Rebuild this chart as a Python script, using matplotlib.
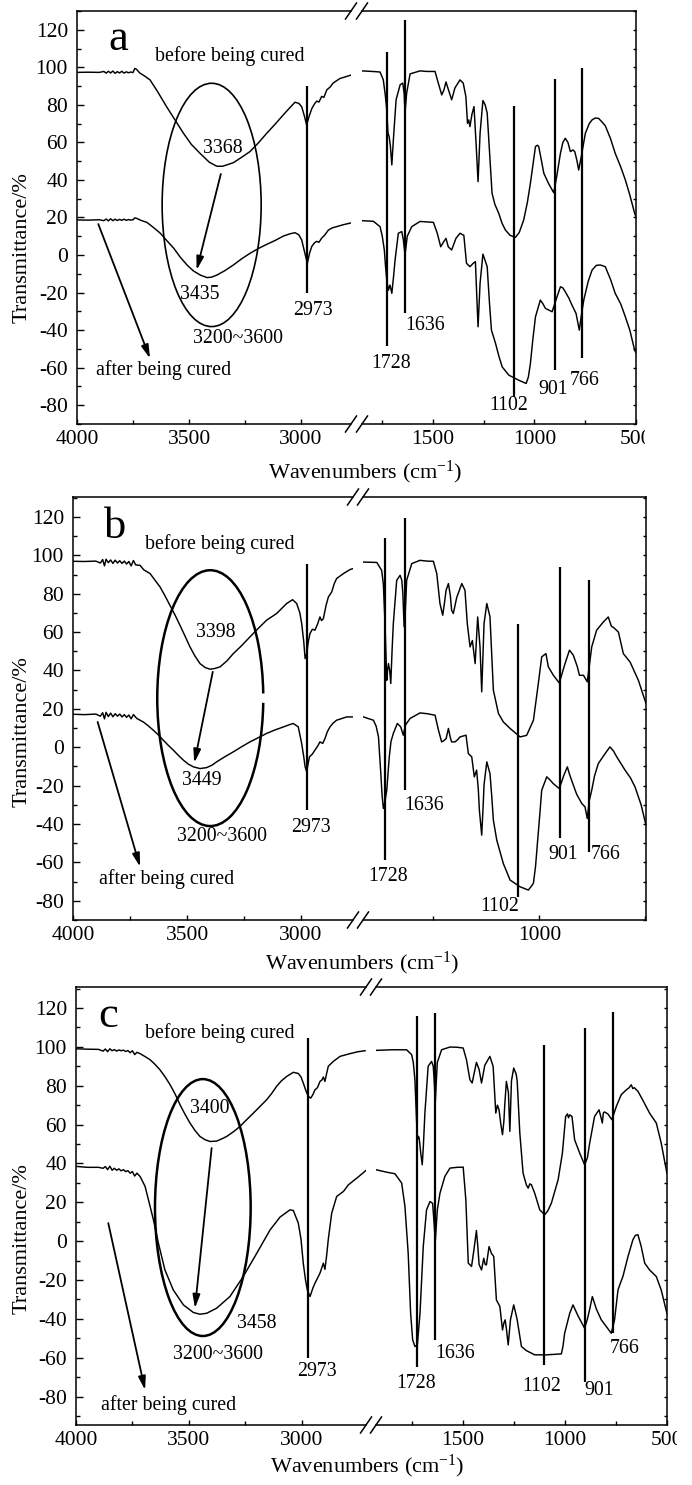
import matplotlib
matplotlib.use("Agg")
import matplotlib.pyplot as plt
from matplotlib.patches import Ellipse, Arc
from matplotlib.lines import Line2D
from matplotlib.ticker import FixedLocator, MultipleLocator
from matplotlib.transforms import Bbox

plt.rcParams["font.family"] = ["Liberation Serif", "DejaVu Serif"]
plt.rcParams["mathtext.fontset"] = "custom"
plt.rcParams["mathtext.rm"] = "Liberation Serif"
plt.rcParams["mathtext.it"] = "Liberation Serif:italic"
plt.rcParams["axes.unicode_minus"] = False

# ---------------------------------------------------------------------------
# FTIR spectra (wavenumber cm-1, transmittance %), split at the axis break:
# *_HI  = 4000 .. ~2750 cm-1 region, *_LO = ~1900 .. 500 cm-1 region
# ---------------------------------------------------------------------------
A_BEFORE_HI = [(4000, 97.3), (3950, 97.4), (3900, 97.3), (3880, 97.8), (3870, 96.9), (3860, 97.9),
               (3850, 97.0), (3840, 98.0), (3830, 96.8), (3820, 97.7), (3810, 97.0), (3800, 97.9),
               (3790, 96.9), (3780, 97.6), (3770, 97.1), (3760, 97.5), (3750, 97.2), (3742, 99.4),
               (3735, 99.0), (3720, 97.0), (3700, 95.5), (3674, 93.3), (3640, 87.0), (3600, 79.0),
               (3560, 71.5), (3525, 64.9), (3490, 59.0), (3451, 54.2), (3410, 49.5), (3376, 47.3),
               (3350, 47.3), (3302, 49.2), (3260, 52.5), (3228, 55.1), (3190, 59.8), (3153, 64.9),
               (3115, 69.8), (3079, 74.7), (3050, 78.5), (3027, 81.4), (3010, 80.8), (2997, 79.0),
               (2985, 74.0), (2975, 69.3), (2965, 73.5), (2952, 78.0), (2940, 80.5), (2930, 82.0),
               (2920, 81.5), (2908, 84.5), (2898, 84.0), (2885, 88.0), (2870, 89.5), (2857, 91.6),
               (2827, 94.0), (2800, 95.0), (2774, 96.0)]
A_BEFORE_LO = [(1851, 98.1), (1800, 97.8), (1761, 97.5), (1745, 93.3), (1735, 85.0), (1728, 77.3),
               (1722, 65.0), (1716, 63.0), (1710, 58.0), (1703, 48.0), (1695, 62.0), (1682, 82.7),
               (1662, 90.7), (1649, 91.6), (1642, 86.0), (1638, 75.6), (1630, 86.2), (1613, 96.5),
               (1564, 98.1), (1530, 97.8), (1490, 97.8), (1474, 91.6), (1457, 85.3), (1446, 88.0),
               (1436, 92.2), (1425, 88.4), (1408, 82.7), (1392, 89.0), (1367, 93.3), (1351, 91.6),
               (1338, 84.4), (1330, 70.2), (1324, 72.0), (1318, 68.4), (1308, 75.0), (1298, 79.1),
               (1288, 60.0), (1278, 39.1), (1268, 65.0), (1254, 82.3), (1243, 80.0), (1233, 75.6),
               (1217, 47.1), (1209, 32.9), (1195, 27.0), (1176, 22.2), (1160, 17.0), (1143, 13.3),
               (1120, 10.5), (1094, 9.4), (1075, 12.0), (1053, 18.7), (1035, 28.0), (1020, 38.2),
               (1005, 50.0), (995, 57.8), (985, 58.5), (979, 57.8), (965, 50.0), (954, 43.6),
               (930, 38.0), (905, 33.2), (890, 42.0), (872, 54.2), (860, 60.0), (848, 62.2),
               (835, 60.0), (823, 55.1), (810, 56.0), (801, 55.0), (790, 50.0), (782, 45.3),
               (770, 52.0), (749, 64.9), (730, 70.0), (716, 72.0), (700, 73.0), (684, 72.8),
               (668, 71.0), (651, 68.9), (625, 62.0), (602, 54.2), (575, 47.0), (552, 40.0),
               (530, 32.0), (506, 22.2), (500, 20.5)]
A_AFTER_HI = [(4000, 18.7), (3950, 18.6), (3900, 18.8), (3880, 18.3), (3870, 19.2), (3860, 18.2),
              (3850, 19.3), (3840, 18.3), (3830, 19.1), (3820, 18.4), (3810, 19.0), (3800, 18.5),
              (3790, 19.1), (3780, 18.5), (3770, 18.9), (3760, 18.6), (3750, 18.8), (3742, 19.8),
              (3735, 19.6), (3715, 18.5), (3688, 17.4), (3660, 14.8), (3628, 11.6), (3600, 7.8),
              (3568, 3.6), (3540, -1.0), (3509, -5.3), (3480, -8.5), (3449, -10.7), (3420, -12.0),
              (3400, -11.8), (3376, -10.7), (3340, -8.3), (3302, -5.3), (3265, -2.0), (3228, 0.9),
              (3190, 3.5), (3153, 5.7), (3115, 7.8), (3079, 10.1), (3050, 11.3), (3027, 11.9),
              (3010, 10.8), (2997, 8.0), (2985, 2.0), (2972, -4.4), (2962, 1.0), (2952, 4.6),
              (2940, 6.5), (2930, 7.3), (2920, 6.8), (2908, 9.0), (2895, 10.5), (2878, 13.3),
              (2860, 14.5), (2842, 15.1), (2810, 16.2), (2774, 17.2)]
A_AFTER_LO = [(1851, 18.3), (1794, 18.0), (1761, 15.1), (1750, 10.0), (1740, 2.7), (1734, -6.0),
              (1728, -13.3), (1720, -18.7), (1712, -16.0), (1703, -20.4), (1695, -12.0), (1687, -2.7),
              (1671, 11.6), (1654, 12.5), (1646, 8.0), (1638, 0.0), (1627, 10.0), (1605, 15.1),
              (1564, 17.9), (1498, 17.4), (1479, 11.6), (1462, 4.4), (1448, 7.0), (1436, 8.9),
              (1425, 4.4), (1408, 2.7), (1387, 8.9), (1367, 11.6), (1348, 10.5), (1335, -4.4),
              (1318, -6.2), (1302, -4.4), (1291, -3.5), (1285, -20.0), (1278, -38.2), (1268, -15.0),
              (1254, 0.5), (1233, -6.2), (1222, -25.0), (1212, -40.0), (1192, -47.0), (1175, -54.0),
              (1159, -59.6), (1126, -64.0), (1077, -66.7), (1041, -68.4), (1030, -65.0), (1020, -57.8),
              (1008, -45.0), (995, -32.9), (971, -24.0), (958, -26.0), (946, -28.4), (913, -30.2),
              (897, -24.9), (872, -16.9), (860, -17.5), (848, -19.6), (830, -23.0), (815, -26.7),
              (795, -31.1), (779, -40.0), (770, -33.0), (757, -24.0), (735, -14.0), (716, -8.0),
              (695, -5.5), (675, -5.3), (651, -6.2), (625, -13.0), (602, -20.4), (575, -26.0),
              (552, -32.9), (530, -40.0), (506, -50.7), (500, -52.0)]

B_BEFORE_HI = [(4000, 96.9), (3950, 96.8), (3900, 97.0), (3880, 96.0), (3870, 97.8), (3862, 94.5),
               (3855, 98.0), (3845, 96.2), (3835, 97.6), (3825, 95.8), (3815, 97.5), (3805, 96.0),
               (3795, 97.2), (3785, 95.8), (3775, 97.0), (3765, 95.5), (3755, 96.8), (3745, 94.5),
               (3735, 97.3), (3725, 95.0), (3706, 94.8), (3690, 92.5), (3662, 90.5), (3640, 87.0),
               (3618, 83.5), (3597, 79.0), (3575, 74.0), (3553, 69.0), (3531, 63.6), (3509, 58.0),
               (3487, 52.3), (3465, 47.5), (3443, 43.6), (3420, 41.5), (3399, 40.7), (3380, 41.0),
               (3355, 41.9), (3325, 45.0), (3297, 48.8), (3260, 53.0), (3224, 57.5), (3187, 62.0),
               (3151, 66.2), (3107, 69.7), (3063, 74.9), (3037, 76.9), (3019, 74.9), (3005, 70.0),
               (2997, 64.4), (2988, 55.0), (2982, 46.2), (2975, 48.8), (2968, 55.0), (2961, 59.2),
               (2950, 61.5), (2939, 61.0), (2928, 64.0), (2917, 67.9), (2910, 66.0), (2902, 67.0),
               (2890, 74.0), (2880, 78.3), (2865, 81.0), (2855, 85.0), (2844, 87.9), (2814, 90.5),
               (2785, 92.6), (2772, 93.1)]
B_BEFORE_LO = [(1830, 96.5), (1767, 96.3), (1744, 92.2), (1736, 85.0), (1728, 64.4), (1722, 42.0),
               (1720, 34.9), (1716, 40.0), (1712, 43.6), (1706, 40.0), (1701, 33.2), (1695, 50.0),
               (1689, 64.4), (1673, 87.0), (1657, 89.6), (1649, 87.0), (1644, 80.0), (1638, 62.7),
               (1632, 72.0), (1626, 87.0), (1602, 95.7), (1563, 97.4), (1530, 97.0), (1500, 96.9),
               (1484, 90.5), (1469, 74.9), (1456, 68.8), (1448, 75.0), (1440, 81.8), (1429, 85.3),
               (1420, 79.0), (1414, 71.4), (1406, 69.7), (1390, 78.0), (1366, 85.3), (1351, 81.8),
               (1340, 64.4), (1327, 52.3), (1316, 55.6), (1303, 43.6), (1291, 67.9), (1280, 52.3),
               (1272, 28.9), (1261, 64.4), (1248, 74.9), (1233, 68.0), (1217, 29.7), (1193, 17.6),
               (1170, 13.2), (1138, 9.8), (1091, 5.4), (1060, 6.2), (1028, 14.1), (1005, 33.2),
               (989, 47.1), (969, 48.8), (958, 42.0), (934, 37.5), (906, 33.5), (879, 43.6),
               (858, 50.6), (840, 48.0), (821, 42.0), (811, 37.5), (792, 37.5), (774, 34.1),
               (753, 52.3), (730, 61.0), (698, 65.3), (675, 67.9), (660, 63.0), (651, 62.5),
               (627, 60.0), (604, 48.8), (572, 44.4), (533, 34.9), (497, 22.8)]
B_AFTER_HI = [(4000, 17.2), (3950, 17.0), (3900, 17.3), (3880, 16.2), (3870, 18.0), (3862, 14.8),
              (3855, 18.2), (3845, 16.0), (3835, 17.8), (3825, 15.9), (3815, 17.5), (3805, 16.2),
              (3795, 17.3), (3785, 15.8), (3775, 17.0), (3765, 15.6), (3755, 16.8), (3745, 14.8),
              (3735, 17.0), (3720, 15.0), (3692, 13.2), (3670, 11.2), (3648, 8.9), (3626, 6.5),
              (3604, 3.7), (3582, 1.0), (3560, -1.5), (3538, -4.2), (3516, -6.7), (3494, -8.8),
              (3472, -10.2), (3443, -11.1), (3414, -10.6), (3390, -9.3), (3370, -7.6), (3335, -5.0),
              (3297, -2.4), (3260, 0.3), (3224, 2.8), (3187, 5.0), (3151, 7.2), (3115, 9.0),
              (3077, 10.6), (3050, 11.8), (3034, 12.4), (3012, 10.6), (2997, 1.9), (2988, -5.0),
              (2982, -10.2), (2975, -12.8), (2968, -8.0), (2963, -5.0), (2950, -3.5), (2939, -1.5),
              (2925, 1.0), (2917, 2.8), (2905, 2.0), (2895, 4.5), (2885, 8.0), (2873, 10.6),
              (2860, 12.5), (2844, 14.1), (2800, 15.8), (2772, 15.8)]
B_AFTER_LO = [(1830, 15.8), (1783, 14.1), (1770, 11.0), (1759, 5.4), (1748, -13.7), (1742, -25.0),
              (1736, -31.9), (1728, -28.0), (1720, -22.4), (1708, -5.0), (1700, 3.0), (1689, 7.2),
              (1670, 12.4), (1654, 10.6), (1642, 6.3), (1632, 11.5), (1610, 15.0), (1563, 17.9),
              (1530, 17.5), (1492, 16.7), (1476, 8.9), (1461, 2.8), (1450, 3.5), (1440, 4.5),
              (1429, 9.8), (1420, 5.0), (1414, 2.8), (1398, 2.8), (1385, 4.0), (1374, 5.4),
              (1346, 6.3), (1335, -3.3), (1319, -5.0), (1307, -15.4), (1296, -11.9), (1288, -22.0),
              (1283, -32.8), (1272, -45.8), (1265, -30.0), (1261, -19.5), (1248, -7.6), (1233, -13.7),
              (1225, -25.0), (1217, -38.0), (1201, -48.4), (1170, -60.6), (1138, -69.2), (1091, -72.7),
              (1052, -74.4), (1035, -72.0), (1028, -70.8), (1018, -62.0), (1008, -48.4), (998, -35.0),
              (989, -22.4), (965, -15.4), (950, -17.0), (934, -19.0), (906, -21.5), (884, -14.5),
              (868, -10.2), (858, -14.0), (847, -17.5), (824, -24.5), (800, -29.3), (785, -31.0),
              (774, -37.1), (765, -28.0), (753, -22.4), (740, -15.0), (722, -8.5), (690, -3.3),
              (667, 0.2), (650, -2.0), (635, -5.0), (615, -8.5), (596, -11.9), (570, -16.0),
              (549, -20.6), (520, -30.0), (497, -40.6)]

C_BEFORE_HI = [(4000, 99.0), (3950, 98.8), (3900, 98.7), (3880, 97.8), (3870, 98.9), (3860, 97.5),
               (3850, 99.0), (3840, 98.0), (3830, 98.6), (3820, 97.8), (3810, 98.4), (3800, 98.0),
               (3790, 98.3), (3780, 97.6), (3770, 98.1), (3760, 97.0), (3750, 98.0), (3740, 96.0),
               (3730, 97.2), (3716, 96.5), (3694, 95.0), (3672, 93.4), (3650, 91.0), (3628, 88.2),
               (3605, 84.5), (3583, 80.5), (3560, 75.5), (3539, 70.2), (3517, 65.3), (3495, 60.8),
               (3473, 57.0), (3451, 53.9), (3428, 52.2), (3406, 51.3), (3377, 51.5), (3355, 52.6),
               (3332, 53.9), (3300, 56.5), (3273, 59.1), (3244, 62.5), (3214, 65.9), (3185, 69.3),
               (3155, 72.8), (3133, 76.0), (3111, 79.7), (3090, 82.5), (3066, 84.8), (3037, 86.9),
               (3015, 86.3), (3003, 84.5), (2993, 81.4), (2980, 77.0), (2970, 74.5), (2960, 73.6),
               (2950, 75.5), (2941, 77.9), (2930, 79.0), (2919, 82.2), (2910, 83.0), (2904, 84.5),
               (2897, 82.2), (2890, 86.0), (2882, 90.0), (2860, 92.5), (2830, 95.1), (2786, 96.5),
               (2750, 97.5), (2719, 98.0)]
C_BEFORE_LO = [(1925, 98.2), (1850, 98.5), (1778, 98.5), (1753, 96.0), (1745, 92.0), (1737, 83.1),
               (1730, 65.0), (1725, 52.2), (1720, 54.0), (1716, 53.0), (1708, 45.0), (1701, 39.3),
               (1695, 50.0), (1688, 65.9), (1672, 90.0), (1655, 92.5), (1647, 90.0), (1642, 82.0),
               (1637, 71.1), (1632, 82.0), (1627, 92.0), (1606, 98.5), (1565, 99.9), (1530, 99.8),
               (1500, 99.4), (1484, 93.4), (1467, 83.1), (1456, 81.4), (1445, 87.0), (1435, 92.0),
               (1422, 88.4), (1410, 81.4), (1394, 90.5), (1369, 95.1), (1353, 90.0), (1340, 65.9),
               (1332, 70.0), (1324, 67.6), (1315, 60.0), (1307, 54.8), (1300, 62.0), (1296, 70.0),
               (1288, 82.2), (1278, 76.5), (1271, 56.5), (1263, 82.5), (1252, 89.1), (1240, 86.0),
               (1235, 82.5), (1222, 55.6), (1206, 35.0), (1190, 29.0), (1181, 27.3), (1173, 29.5),
               (1165, 29.0), (1149, 24.7), (1124, 16.1), (1100, 13.6), (1085, 15.5), (1067, 19.6),
               (1034, 31.6), (1013, 45.3), (997, 64.2), (988, 65.5), (983, 63.5), (977, 65.0),
               (966, 64.2), (953, 52.2), (928, 45.3), (904, 39.3), (890, 43.0), (879, 50.5),
               (855, 64.2), (833, 67.6), (822, 63.0), (817, 60.8), (812, 66.0), (806, 66.5),
               (789, 65.4), (770, 62.5), (748, 69.4), (724, 75.4), (699, 77.9), (685, 79.0),
               (675, 80.5), (667, 78.5), (660, 79.0), (642, 77.1), (618, 72.5), (585, 65.9),
               (552, 60.8), (528, 50.5), (500, 35.0)]
C_AFTER_HI = [(4000, 38.5), (3950, 38.0), (3900, 38.0), (3880, 37.5), (3870, 38.4), (3860, 36.8),
              (3850, 38.6), (3840, 36.5), (3830, 37.5), (3820, 36.5), (3810, 37.2), (3800, 36.2),
              (3790, 36.8), (3780, 35.8), (3770, 36.3), (3760, 35.0), (3750, 35.8), (3740, 33.5),
              (3730, 35.0), (3716, 33.3), (3694, 28.2), (3679, 21.3), (3657, 11.0), (3635, -1.0),
              (3606, -14.8), (3569, -25.1), (3524, -32.8), (3480, -36.7), (3451, -37.6), (3421, -37.1),
              (3377, -34.5), (3318, -28.5), (3259, -18.2), (3199, -6.2), (3140, 5.8), (3096, 12.4),
              (3052, 16.1), (3037, 15.8), (3015, 9.3), (3003, 1.0), (2993, -11.3), (2983, -20.0),
              (2975, -25.1), (2963, -28.5), (2950, -24.0), (2941, -21.6), (2919, -16.5), (2904, -11.3),
              (2897, -14.5), (2890, -8.0), (2882, 1.0), (2867, 14.4), (2845, 23.0), (2815, 25.6),
              (2793, 29.0), (2750, 33.0), (2712, 36.7)]
C_AFTER_LO = [(1925, 36.7), (1876, 35.5), (1835, 34.7), (1802, 29.9), (1786, 17.9), (1770, -6.2),
              (1758, -37.1), (1748, -50.8), (1737, -54.2), (1725, -53.4), (1712, -37.1), (1696, -2.8),
              (1680, 16.1), (1663, 20.4), (1650, 19.5), (1642, 8.0), (1637, -0.2), (1632, 8.0),
              (1627, 16.0), (1614, 24.7), (1590, 33.3), (1565, 37.6), (1530, 38.0), (1500, 38.1),
              (1487, 21.3), (1475, -11.3), (1459, -13.0), (1448, -5.0), (1435, 5.5), (1428, -3.0),
              (1422, -12.0), (1410, -14.8), (1399, -8.8), (1392, -12.0), (1386, -12.2), (1373, -2.8),
              (1361, -6.3), (1350, -7.9), (1337, -30.2), (1320, -33.6), (1307, -45.7), (1300, -42.0),
              (1294, -40.5), (1288, -45.0), (1279, -53.4), (1268, -40.5), (1252, -32.8), (1240, -38.0),
              (1235, -40.5), (1214, -54.2), (1190, -56.3), (1149, -58.5), (1092, -58.5), (1018, -58.0),
              (1010, -54.0), (1002, -47.4), (977, -37.1), (961, -32.8), (936, -38.5), (904, -44.8),
              (890, -40.0), (879, -35.0), (866, -28.5), (846, -35.0), (822, -40.5), (797, -44.0),
              (773, -47.4), (765, -44.0), (757, -40.5), (740, -25.1), (728, -21.5), (716, -18.2),
              (691, -7.9), (667, 0.7), (655, 3.0), (642, 3.3), (626, -2.8), (609, -11.3),
              (585, -14.8), (552, -18.2), (528, -25.1), (500, -37.1)]

# Marked band positions (cm-1) and the vertical extent of each marker line
BANDS = [2973, 1728, 1636, 1102, 901, 766]
A_BAND_SPAN = [(-20.4, 90.1), (-48.5, 108.4), (-31.1, 125.0), (-75.6, 79.5), (-61.3, 93.7), (-55.1, 99.6)]
B_BAND_SPAN = [(-32.8, 95.3), (-58.8, 109.2), (-22.4, 119.5), (-77.9, 64.4), (-47.5, 94.0), (-54.5, 87.4)]
C_BAND_SPAN = [(-60.3, 104.5), (-64.5, 115.7), (-50.8, 117.4), (-63.7, 101.1), (-72.3, 109.7), (-47.4, 117.9)]

# Annotation texts: (text, wavenumber, transmittance)
A_LABELS = [("before being cured", 3317, 106.1), ("3368", 3350, 56.5), ("3435", 3454, -20.8),
            ("3200~3600", 3280, -44.4), ("2973", 2945, -29.7), ("after being cured", 3615, -61.3),
            ("1636", 1539, -37.3), ("1728", 1708, -57.8), ("1102", 1129, -80.0),
            ("901", 907, -71.6), ("766", 751, -66.7)]
B_LABELS = [("before being cured", 3355, 106.1), ("3398", 3374, 59.6), ("3449", 3436, -17.5),
            ("3200~3600", 3348, -46.7), ("2973", 2956, -41.8), ("after being cured", 3589, -68.9),
            ("1636", 1544, -30.2), ("1728", 1712, -67.2), ("1102", 1189, -83.1),
            ("901", 887, -55.7), ("766", 686, -55.7)]
C_LABELS = [("before being cured", 3362, 107.1), ("3400", 3409, 68.5), ("3458", 3199, -42.2),
            ("3200~3600", 3369, -58.5), ("2973", 2933, -67.1), ("after being cured", 3591, -84.3),
            ("1636", 1541, -57.7), ("1728", 1729, -73.5), ("1102", 1116, -74.8),
            ("901", 833, -76.6), ("766", 708, -55.1)]

# O-H band ellipse: centre (cm-1, %), width (cm-1), height (%)
A_OH_ELLIPSE = (3399, 26.7, 442, 129.6)
B_OH_ELLIPSE = (3398, 25.6, 465, 133.3)
C_OH_ELLIPSE = (3438, 17.3, 424, 132.2)

# Arrows: (from_wn, from_T, to_wn, to_T)
A_ARROWS = [(3358, 43.2, 3466, -8.0), (3905, 16.5, 3674, -55.1)]
B_ARROWS = [(3387, 39.3, 3468, -8.1), (3892, 13.2, 3706, -62.3)]
C_ARROWS = [(3399, 47.9, 3473, -34.5), (3857, 9.3, 3694, -76.6)]

PANEL_LETTERS = [("a", 3817, 115.2), ("b", 3816, 114.8), ("c", 3857, 116.0)]

# ---------------------------------------------------------------------------
W, H = 692, 1485
fig = plt.figure(figsize=(W / 100, H / 100), dpi=100)


def fx(px):
    return px / W


def fy(py):
    return 1 - py / H


# panel geometry in pixels: left edge, left-part end, right-part start, right edge, top, bottom
LAYOUT = [
    dict(x0=77, xa=351, xb=362, x1=636, top=11, bot=424, ylim=(-90, 130),
         xl=(4000, 2777), xr=(1850, 499.5), r_major=[1500, 1000, 500], r_minor=[1750, 1250, 750],
         ylab=248, xlab=(365, 472), clip=645, ell_lw=1.2, ell_gap=False),
    dict(x0=73, xa=353, xb=363, x1=646, top=497, bot=920, ylim=(-90, 130.4),
         xl=(4000, 2772), xr=(1832, 497), r_major=[1000], r_minor=[1500, 500],
         ylab=732, xlab=(362, 963), clip=None, ell_lw=1.8, ell_gap=True),
    dict(x0=76, xa=366, xb=376, x1=667, top=987, bot=1425, ylim=(-94.6, 130.8),
         xl=(4000, 2715), xr=(1928, 499.5), r_major=[1500, 1000, 500], r_minor=[1750, 1250, 750],
         ylab=1239, xlab=(367, 1466), clip=677, ell_lw=1.8, ell_gap=False),
]

SPECTRA = [
    (A_BEFORE_HI, A_BEFORE_LO, A_AFTER_HI, A_AFTER_LO),
    (B_BEFORE_HI, B_BEFORE_LO, B_AFTER_HI, B_AFTER_LO),
    (C_BEFORE_HI, C_BEFORE_LO, C_AFTER_HI, C_AFTER_LO),
]
SPANS = [A_BAND_SPAN, B_BAND_SPAN, C_BAND_SPAN]
LABELS = [A_LABELS, B_LABELS, C_LABELS]
ELLIPSES = [A_OH_ELLIPSE, B_OH_ELLIPSE, C_OH_ELLIPSE]
ARROWS = [A_ARROWS, B_ARROWS, C_ARROWS]

TICK_FS = 15.5
ANNO_FS = 14.3
LW_SPEC = 1.05


def break_mark(xc, yc):
    line = Line2D([fx(xc - 5.5), fx(xc + 5.5)], [fy(yc + 8), fy(yc - 8)],
                  transform=fig.transFigure, color="black", lw=1.1)
    fig.add_artist(line)


right_axes = []
for i, g in enumerate(LAYOUT):
    hgt = (g["bot"] - g["top"]) / H
    axl = fig.add_axes([fx(g["x0"]), fy(g["bot"]), (g["xa"] - g["x0"]) / W, hgt])
    axr = fig.add_axes([fx(g["xb"]), fy(g["bot"]), (g["x1"] - g["xb"]) / W, hgt])
    right_axes.append((axr, g["clip"]))

    for ax in (axl, axr):
        ax.set_ylim(*g["ylim"])
        for s in ax.spines.values():
            s.set_linewidth(1.1)
        ax.yaxis.set_major_locator(MultipleLocator(20))
        ax.yaxis.set_minor_locator(MultipleLocator(10))
        ax.tick_params(axis="both", which="both", direction="in", width=1.0,
                       labelsize=TICK_FS, top=False)
        ax.tick_params(axis="x", which="major", length=3.6, pad=4.5)
        ax.tick_params(axis="x", which="minor", length=3.2)
        ax.tick_params(axis="y", which="major", length=5.0)
        ax.tick_params(axis="y", which="minor", length=2.9)

    axl.set_xlim(*g["xl"])
    axr.set_xlim(*g["xr"])
    axl.spines["right"].set_visible(False)
    axr.spines["left"].set_visible(False)
    axl.tick_params(axis="y", which="both", left=True, right=False, pad=6.5)
    axr.tick_params(axis="y", which="both", left=False, right=True,
                    labelleft=False, labelright=False, length=2.5)
    axl.xaxis.set_major_locator(FixedLocator([4000, 3500, 3000]))
    axl.xaxis.set_minor_locator(FixedLocator([3750, 3250]))
    axr.xaxis.set_major_locator(FixedLocator(g["r_major"]))
    axr.xaxis.set_minor_locator(FixedLocator(g["r_minor"]))

    # spectra
    b_hi, b_lo, a_hi, a_lo = SPECTRA[i]
    for pts, ax in ((b_hi, axl), (b_lo, axr), (a_hi, axl), (a_lo, axr)):
        wn, t = zip(*pts)
        ax.plot(wn, t, color="black", lw=LW_SPEC, solid_joinstyle="round")

    # band marker lines
    for wn, (y0, y1) in zip(BANDS, SPANS[i]):
        ax = axl if wn > 2000 else axr
        ax.plot([wn, wn], [y0, y1], color="black", lw=1.6, solid_capstyle="butt")

    # annotation texts
    for txt, wn, t in LABELS[i]:
        ax = axl if wn > 2000 else axr
        ax.text(wn, t, txt, fontsize=ANNO_FS, ha="center", va="center")

    letter, lw_, lt_ = PANEL_LETTERS[i]
    axl.text(lw_, lt_, letter, fontsize=32, ha="center", va="center")

    # O-H band ellipse
    cx, cy, ew, eh = ELLIPSES[i]
    if g["ell_gap"]:
        axl.add_patch(Arc((cx, cy), ew, eh, theta1=-179.4, theta2=179.4,
                          color="black", lw=g["ell_lw"]))
    else:
        axl.add_patch(Ellipse((cx, cy), ew, eh, fill=False, edgecolor="black",
                              lw=g["ell_lw"]))

    # arrows
    for x0a, y0a, x1a, y1a in ARROWS[i]:
        axl.annotate("", xy=(x1a, y1a), xytext=(x0a, y0a),
                     arrowprops=dict(arrowstyle="-|>,head_length=0.8,head_width=0.22",
                                     color="black", lw=1.3, shrinkA=0, shrinkB=0))

    # axis break marks
    for xc in (g["xa"], g["xb"]):
        break_mark(xc, g["top"])
        break_mark(xc, g["bot"])

    fig.text(fx(22), fy(g["ylab"]), "Transmittance/%", rotation=90, fontsize=16,
             ha="center", va="center")
    fig.text(fx(g["xlab"][0]), fy(g["xlab"][1]), "Wavenumbers (cm$^{-1}$)", fontsize=16,
             ha="center", va="center")

# the last tick label runs into the right edge of the frame and is cut off there
fig.canvas.draw()
for axr, clip in right_axes:
    if clip is None:
        continue
    for lbl in axr.get_xticklabels():
        if lbl.get_text() == "500":
            lbl.set_clip_box(Bbox.from_extents(0, 0, clip, H))
            lbl.set_clip_on(True)

fig.savefig("out.png", dpi=100)
